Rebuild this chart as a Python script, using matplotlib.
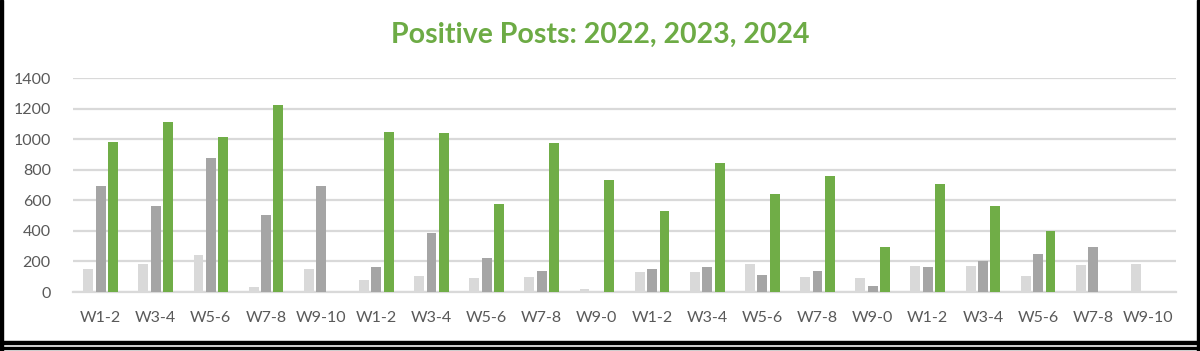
import matplotlib

matplotlib.use("Agg")
import matplotlib.pyplot as plt
import numpy as np
from matplotlib.patches import Rectangle

# Two-week buckets, four blocks of five
labels = ["W1-2", "W3-4", "W5-6", "W7-8", "W9-10",
          "W1-2", "W3-4", "W5-6", "W7-8", "W9-0",
          "W1-2", "W3-4", "W5-6", "W7-8", "W9-0",
          "W1-2", "W3-4", "W5-6", "W7-8", "W9-10"]

posts_2022 = [150, 185, 244, 33, 150, 78, 107, 92, 100, 22,
              133, 131, 183, 96, 89, 172, 170, 107, 177, 181]
posts_2023 = [691, 560, 879, 504, 691, 164, 384, 222, 140, 0,
              148, 164, 109, 136, 41, 166, 203, 249, 297, 0]
posts_2024 = [981, 1114, 1016, 1221, 0, 1049, 1040, 578, 975, 731,
              532, 842, 639, 761, 297, 709, 560, 399, 0, 0]

series = [("2022", posts_2022, "#D9D9D9"),
          ("2023", posts_2023, "#A5A5A5"),
          ("2024", posts_2024, "#70AD47")]

plt.rcParams["font.family"] = ["Lato", "DejaVu Sans"]

fig = plt.figure(figsize=(12, 3.51), dpi=100)
ax = fig.add_axes([73 / 1200, 1 - 292 / 351, (1176 - 73) / 1200, (292 - 78) / 351])

x = np.arange(len(labels))
width = 0.18
step = 0.225
for i, (name, vals, col) in enumerate(series):
    ax.bar(x + (i - 1) * step, vals, width, color=col, label=name, zorder=3)

ax.set_xlim(-0.5, len(labels) - 0.5)
ax.set_ylim(0, 1400)
ax.set_yticks(range(0, 1401, 200))
ax.set_xticks(x)
ax.set_xticklabels(labels)
ax.tick_params(axis="both", length=0, labelsize=11.5, colors="#595959")
ax.tick_params(axis="x", pad=14)
ax.tick_params(axis="y", pad=16)
ax.grid(axis="y", color="#D9D9D9", linewidth=1.6, zorder=0)
for side in ["top", "right", "left"]:
    ax.spines[side].set_visible(False)
ax.spines["bottom"].set_color("#D9D9D9")
ax.spines["bottom"].set_linewidth(1.6)

fig.text(0.5, 1 - 35 / 351, "Positive Posts: 2022, 2023, 2024", ha="center", va="center",
         fontsize=20.5, fontweight="bold", color="#6DAB45")

# black frame like the screenshot
def px_rect(x0, y0, w, h):
    fig.patches.append(Rectangle((x0 / 1200, 1 - (y0 + h) / 351), w / 1200, h / 351,
                                 transform=fig.transFigure, color="black", zorder=10))

px_rect(0, 0, 3, 351)
px_rect(1197, 0, 3, 351)
px_rect(0, 341, 1200, 3)
px_rect(0, 347, 1200, 2)

fig.savefig("out.png", dpi=100)
